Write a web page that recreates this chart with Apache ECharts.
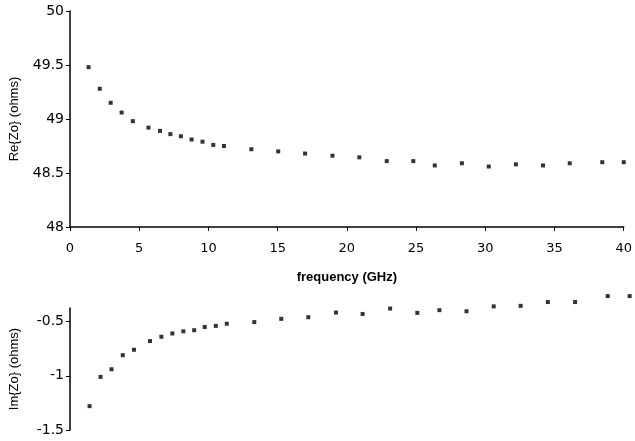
<!DOCTYPE html>
<html><head><meta charset="utf-8">
<script src="https://cdn.jsdelivr.net/npm/echarts@6/dist/echarts.min.js"></script>
<style>html,body{margin:0;padding:0;background:#fff}#c{width:635px;height:441px}</style>
</head><body><div id="c"></div>
<script>
// Frequency (GHz) of each sample
const freqRe = [1.34,2.15,2.94,3.73,4.54,5.67,6.5,7.25,8.01,8.78,9.57,10.35,11.12,13.1,15.04,16.98,18.96,20.9,22.88,24.8,26.35,28.31,30.25,32.21,34.17,36.1,38.45,40.0];
const reZo = [49.48,49.28,49.15,49.06,48.98,48.92,48.89,48.86,48.84,48.81,48.79,48.76,48.75,48.72,48.70,48.68,48.66,48.645,48.61,48.61,48.57,48.59,48.56,48.58,48.57,48.59,48.60,48.60];
const freqIm = [1.41,2.2,2.99,3.8,4.61,5.76,6.58,7.37,8.16,8.94,9.7,10.5,11.29,13.27,15.21,17.16,19.15,21.07,23.05,25.01,26.6,28.55,30.51,32.45,34.41,36.37,38.72,40.3];
const imZo = [-1.28,-1.01,-0.94,-0.81,-0.76,-0.68,-0.64,-0.61,-0.59,-0.58,-0.55,-0.54,-0.52,-0.505,-0.475,-0.46,-0.417,-0.43,-0.38,-0.42,-0.395,-0.405,-0.36,-0.355,-0.32,-0.32,-0.265,-0.265];
const xTicks = [0,5,10,15,20,25,30,35,40];

const font = 'Liberation Sans, Arial, sans-serif';
const numFont = 'DejaVu Sans, sans-serif';
const chart = echarts.init(document.getElementById('c'), null, {renderer:'canvas'});
const axLine = {lineStyle:{color:'#000', width:1.5}};
chart.setOption({
  animation:false,
  textStyle:{fontFamily:font, color:'#000'},
  grid:[
    {left:68, right:9.5, top:11, height:216},
    {left:68, right:9.5, top:308, height:122}
  ],
  xAxis:[
    {gridIndex:0, type:'value', min:xTicks[0], max:xTicks[xTicks.length-1], interval:5,
     axisLine:axLine, axisTick:{show:true, length:4, lineStyle:{color:'#000'}},
     splitLine:{show:false},
     axisLabel:{color:'#000', fontSize:13, margin:15, fontFamily:numFont},
     name:'frequency (GHz)', nameLocation:'middle', nameGap:44,
     nameTextStyle:{fontSize:13, fontWeight:'bold', color:'#000', fontFamily:font}},
    {gridIndex:1, type:'value', min:0, max:40, show:false}
  ],
  yAxis:[
    {gridIndex:0, type:'value', min:48, max:50, interval:0.5,
     axisLine:{show:true, ...axLine}, axisTick:{show:true, length:4, lineStyle:{color:'#000'}},
     splitLine:{show:false},
     axisLabel:{color:'#000', fontSize:14, margin:6, fontFamily:numFont},
     name:'Re{Zo} (ohms)', nameLocation:'middle', nameGap:49, nameRotate:90,
     nameTextStyle:{fontSize:13, color:'#000', fontFamily:font}},
    {gridIndex:1, type:'value', min:-1.5, max:-0.375, interval:0.5,
     axisLine:{show:true, ...axLine}, axisTick:{show:true, length:4, lineStyle:{color:'#000'}},
     splitLine:{show:false},
     axisLabel:{color:'#000', fontSize:14, margin:6, fontFamily:numFont, showMaxLabel:false},
     name:'Im{Zo} (ohms)', nameLocation:'middle', nameGap:49, nameRotate:90,
     nameTextStyle:{fontSize:13, color:'#000', fontFamily:font}}
  ],
  series:[
    {type:'scatter', xAxisIndex:0, yAxisIndex:0, symbol:'rect', symbolSize:4, clip:false,
     itemStyle:{color:'#000'}, data:freqRe.map((f,i)=>[f,reZo[i]])},
    {type:'scatter', xAxisIndex:1, yAxisIndex:1, symbol:'rect', symbolSize:4, clip:false,
     itemStyle:{color:'#000'}, data:freqIm.map((f,i)=>[f,imZo[i]])}
  ]
});
</script></body></html>
